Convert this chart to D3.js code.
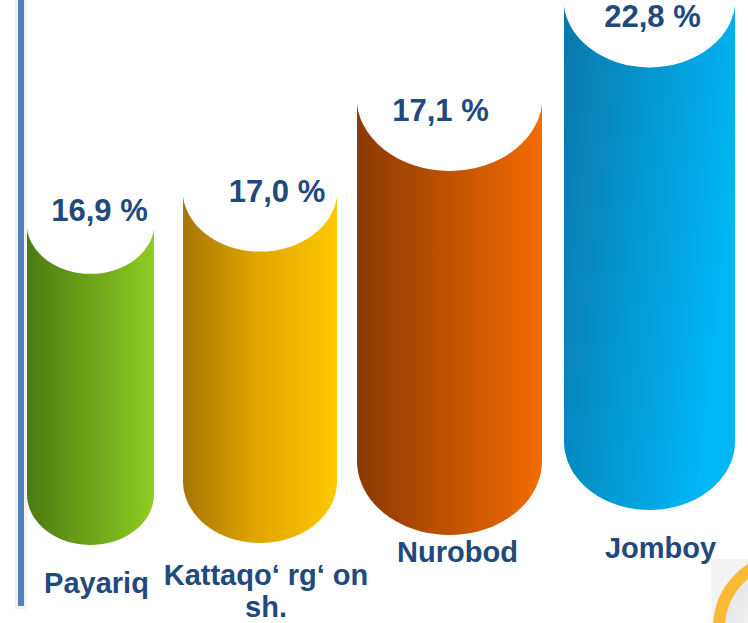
<!DOCTYPE html>
<html>
<head>
<meta charset="utf-8">
<script src="https://cdn.jsdelivr.net/npm/d3@7"></script>
<style>
  html, body { margin: 0; padding: 0; background: #ffffff; }
  svg { display: block; }
</style>
</head>
<body>
<svg id="chart" width="748" height="623"></svg>
<script>
// ---- data ----
const categories = ["Payariq", "Kattaqo‘ rg‘ on sh.", "Nurobod", "Jomboy"];
const categoryLines = [["Payariq"], ["Kattaqo‘ rg‘ on", "sh."], ["Nurobod"], ["Jomboy"]];
const values = [16.9, 17.0, 17.1, 22.8];

// ---- styles (kept out of the data) ----
const gradStops = [
  [["0%", "#4b7a10"], ["100%", "#8fcd22"]],
  [["0%", "#a67604"], ["45%", "#dea300"], ["100%", "#ffc900"]],
  [["0%", "#8b3904"], ["100%", "#f36c00"]],
  [["0%", "#0a77ab"], ["100%", "#00b6f5"]]
];
const gradDiagonal = [false, false, false, true];
const barWidths = [127, 154, 185, 171];
const gapsBefore = [0, 29, 20, 22];
const baseLift = [0, 2, 10, 35];
const valueDx = [9, 17, -9, 3];
const valueDy = [-2, 12, 24, 28];
const catDx = [6, 6, 8, 11];
const catDy = [48, 42, 27, 48];
const textColor = "#21497c";

const svg = d3.select("#chart");
const defs = svg.append("defs");

// gradients
gradStops.forEach((stops, i) => {
  const g = defs.append("linearGradient").attr("id", "g" + i)
    .attr("x1", "0").attr("y1", "0")
    .attr("x2", "1").attr("y2", gradDiagonal[i] ? "0.35" : "0");
  stops.forEach(s => g.append("stop").attr("offset", s[0]).attr("stop-color", s[1]));
});
const ringGrad = defs.append("radialGradient").attr("id", "ringFill");
ringGrad.append("stop").attr("offset", "0%").attr("stop-color", "#ffffff");
ringGrad.append("stop").attr("offset", "100%").attr("stop-color", "#e6e6e6");

// ---- scales ----
// Pictorial (non-proportional) height scale of the original infographic
const hScale = d3.scaleLinear().domain([16.9, 17.0, 17.1, 22.8]).range([322, 353, 438, 511]);
const baseY = 545;
const x0 = 27;
const lefts = barWidths.map((w, i) =>
  x0 + d3.sum(barWidths.slice(0, i)) + d3.sum(gapsBefore.slice(0, i + 1)));

const bars = values.map((v, i) => {
  const w = barWidths[i];
  const left = lefts[i];
  const yb = baseY - baseLift[i];
  const yt = yb - hScale(v);
  return { v, i, w, left, cx: left + w / 2, yt, yb, ry: 0.4 * w };
});

// left axis-like blue rule with soft shadow
svg.append("rect").attr("x", 15).attr("y", 0).attr("width", 12).attr("height", 609)
  .attr("fill", "#e9e9e9").attr("opacity", 0.6);
svg.append("rect").attr("x", 18).attr("y", 0).attr("width", 6).attr("height", 606)
  .attr("fill", "#4f81bd");

// bars
const g = svg.append("g");
g.selectAll("path.bar").data(bars).enter().append("path")
  .attr("class", "bar")
  .attr("fill", d => `url(#g${d.i})`)
  .attr("d", d => {
    const p = d3.path();
    p.moveTo(d.left, d.yt);
    p.lineTo(d.left, d.yb - d.ry);
    const steps = 40;
    for (let k = 0; k <= steps; k++) {
      const a = Math.PI - Math.PI * k / steps;
      p.lineTo(d.cx + Math.cos(a) * d.w / 2, d.yb - d.ry + Math.sin(a) * d.ry);
    }
    p.lineTo(d.left + d.w, d.yt);
    p.closePath();
    return p.toString();
  });

// white top ellipses
g.selectAll("ellipse.cap").data(bars).enter().append("ellipse")
  .attr("class", "cap")
  .attr("cx", d => d.cx).attr("cy", d => d.yt)
  .attr("rx", d => d.w / 2 + 0.5).attr("ry", d => d.ry)
  .attr("fill", "#ffffff");

// value labels
const fmt = v => d3.format(".1f")(v).replace(".", ",") + " %";
g.selectAll("text.val").data(bars).enter().append("text")
  .attr("class", "val")
  .attr("x", d => d.cx + valueDx[d.i])
  .attr("y", d => d.yt + valueDy[d.i])
  .attr("text-anchor", "middle")
  .attr("font-family", "'Liberation Sans', Arial, sans-serif")
  .attr("font-weight", "bold")
  .attr("font-size", 31)
  .attr("fill", textColor)
  .text(d => fmt(d.v));

// category labels
const cat = g.selectAll("text.cat").data(bars).enter().append("text")
  .attr("class", "cat")
  .attr("text-anchor", "middle")
  .attr("font-family", "'Liberation Sans', Arial, sans-serif")
  .attr("font-weight", "bold")
  .attr("font-size", 29)
  .attr("fill", textColor);
cat.each(function (d) {
  const t = d3.select(this);
  categoryLines[d.i].forEach((line, k) => {
    t.append("tspan")
      .attr("x", d.cx + catDx[d.i])
      .attr("y", d.yb + catDy[d.i] + k * 32)
      .text(line);
  });
});

// decorative ring in the bottom-right corner
svg.append("rect").attr("x", 711).attr("y", 559).attr("width", 40).attr("height", 70)
  .attr("fill", "#f3f3f3");
svg.append("circle").attr("cx", 789).attr("cy", 628).attr("r", 70)
  .attr("fill", "url(#ringFill)")
  .attr("stroke", "#fbb934").attr("stroke-width", 12);
</script>
</body>
</html>
